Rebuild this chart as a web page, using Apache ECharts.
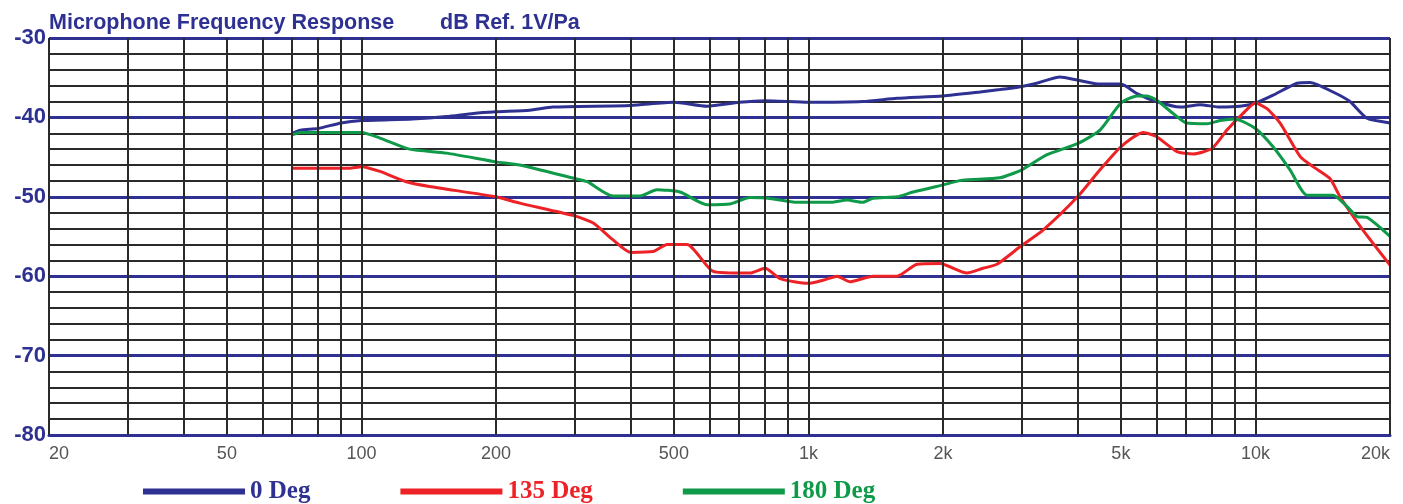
<!DOCTYPE html>
<html>
<head>
<meta charset="utf-8">
<title>Microphone Frequency Response</title>
<script src="https://cdn.jsdelivr.net/npm/echarts@6/dist/echarts.min.js"></script>
<style>
  html, body { margin: 0; padding: 0; background: #fff; }
  #chart { width: 1403px; height: 504px; }
</style>
</head>
<body>
<div id="chart"></div>
<script>
// 频率 (Hz) / 电平 (dB) 读数
let deg0Freq = [70, 73, 80, 90, 100, 130, 155, 178, 200, 238, 268, 400, 500, 593, 700, 800, 1000, 1324, 1578, 2000, 2421, 2682, 3000, 3241, 3654, 4000, 4490, 5000, 5433, 6000, 6780, 7514, 8332, 9234, 10000, 10948, 12388, 13244, 14912, 16270, 17760, 20000];
let deg0Db = [-42.0, -41.6, -41.4, -40.7, -40.4, -40.2, -39.9, -39.5, -39.3, -39.1, -38.7, -38.5, -38.1, -38.6, -38.1, -37.9, -38.1, -38.0, -37.6, -37.3, -36.8, -36.5, -36.1, -35.7, -34.9, -35.3, -35.8, -35.8, -37.0, -38.0, -38.7, -38.4, -38.7, -38.6, -38.2, -37.2, -35.7, -35.6, -36.8, -38.0, -40.1, -40.7];

let deg135Freq = [70, 94, 100, 110, 126, 142, 200, 226, 300, 330, 365, 400, 449, 483, 535, 612, 700, 740, 800, 864, 1000, 1078, 1159, 1239, 1394, 1578, 1749, 1969, 2263, 2458, 2641, 2974, 3348, 4000, 4490, 5000, 5604, 6000, 6676, 7250, 8000, 8636, 9380, 10000, 10614, 11348, 12582, 13450, 14682, 15460, 17400, 20000];
let deg135Db = [-46.4, -46.4, -46.2, -46.8, -48.1, -48.7, -50.0, -50.8, -52.4, -53.3, -55.4, -57.0, -56.9, -56.0, -56.0, -59.4, -59.6, -59.6, -59.0, -60.3, -60.9, -60.5, -60.0, -60.7, -60.0, -60.0, -58.5, -58.4, -59.6, -59.0, -58.5, -56.3, -54.2, -50.0, -46.6, -43.7, -41.9, -42.4, -44.3, -44.6, -43.9, -41.6, -39.5, -38.2, -38.9, -40.7, -44.9, -46.2, -47.7, -50.0, -54.2, -58.6];

let deg180Freq = [70, 73, 100, 110, 128, 155, 200, 226, 300, 320, 365, 420, 458, 516, 593, 668, 740, 820, 943, 1117, 1220, 1324, 1394, 1578, 1714, 2000, 2216, 2682, 3000, 3418, 4000, 4490, 5000, 5433, 5722, 6000, 6540, 7000, 7790, 8332, 9000, 10000, 10948, 11950, 13044, 14912, 16020, 16874, 17760, 20000];
let deg180Db = [-42.2, -41.9, -41.9, -42.6, -44.0, -44.5, -45.6, -46.0, -47.7, -48.1, -49.9, -49.9, -49.1, -49.4, -51.0, -50.9, -50.1, -50.2, -50.7, -50.7, -50.4, -50.7, -50.2, -50.0, -49.4, -48.5, -47.9, -47.6, -46.6, -44.7, -43.3, -41.6, -38.2, -37.3, -37.3, -37.8, -39.5, -40.7, -40.8, -40.4, -40.2, -41.4, -43.7, -46.6, -49.8, -49.8, -51.2, -52.5, -52.6, -55.0];

// 坐标刻度
let xLabelValues = [20, 50, 100, 200, 500, 1000, 2000, 5000, 10000, 20000];
let xGridValues = [20, 30, 40, 50, 60, 70, 80, 90, 100, 200, 300, 400, 500, 600, 700, 800, 900, 1000, 2000, 3000, 4000, 5000, 6000, 7000, 8000, 9000, 10000, 20000];
let seriesNames = ["0 Deg", "135 Deg", "180 Deg"];

const BLUE = "#2E3192";
const RED = "#EC2227";
const GREEN = "#0E9A48";

function pairs(fs, ds) {
  return fs.map((f, i) => [f, ds[i]]);
}

let myChart = echarts.init(document.getElementById("chart"));
myChart.setOption({
  animation: false,
  title: [
    {
      text: "Microphone Frequency Response",
      left: 49,
      top: 12,
      padding: 0,
      textStyle: { color: BLUE, fontSize: 21.5, fontWeight: "bold", fontFamily: "Liberation Sans" }
    },
    {
      text: "dB Ref. 1V/Pa",
      left: 440,
      top: 12,
      padding: 0,
      textStyle: { color: BLUE, fontSize: 21.5, fontWeight: "bold", fontFamily: "Liberation Sans" }
    }
  ],
  grid: { left: 49, right: 13, top: 38, bottom: 69 },
  legend: {
    left: 143,
    top: 479,
    padding: 0,
    itemGap: 90,
    itemWidth: 102,
    itemHeight: 6,
    icon: "rect",
    data: [
      { name: seriesNames[0], textStyle: { color: BLUE } },
      { name: seriesNames[1], textStyle: { color: RED } },
      { name: seriesNames[2], textStyle: { color: GREEN } }
    ],
    textStyle: { fontFamily: "Liberation Serif", fontWeight: "bold", fontSize: 25 }
  },
  xAxis: {
    type: "log",
    logBase: 10,
    min: 20,
    max: 20000,
    axisLine: { show: true, lineStyle: { color: BLUE, width: 3 } },
    axisTick: { show: false },
    splitLine: { show: false },
    axisLabel: {
      customValues: xLabelValues,
      alignMinLabel: "left",
      alignMaxLabel: "right",
      margin: 10,
      color: "#555",
      fontSize: 18,
      fontFamily: "Liberation Sans",
      formatter: v => (v >= 1000 ? v / 1000 + "k" : String(v))
    }
  },
  yAxis: {
    type: "value",
    min: -80,
    max: -30,
    interval: 10,
    axisLine: { show: false },
    axisTick: { show: false },
    axisLabel: {
      margin: 3,
      color: BLUE,
      fontSize: 22,
      fontWeight: "bold",
      fontFamily: "Liberation Sans"
    },
    splitLine: { show: true, lineStyle: { color: BLUE, width: 3 } },
    minorTick: { show: false, splitNumber: 5 },
    minorSplitLine: { show: true, lineStyle: { color: "#2a2a2a", width: 2 } }
  },
  series: [
    {
      // 竖向网格线
      name: "grid",
      type: "line",
      data: [],
      silent: true,
      z: 1,
      markLine: {
        silent: true,
        symbol: "none",
        label: { show: false },
        lineStyle: { color: "#2a2a2a", width: 2, type: "solid" },
        data: xGridValues.map(v => ({ xAxis: v }))
      }
    },
    {
      name: seriesNames[0],
      type: "line",
      z: 3,
      showSymbol: false,
      smooth: 0.2,
      color: BLUE,
      lineStyle: { width: 3 },
      data: pairs(deg0Freq, deg0Db)
    },
    {
      name: seriesNames[1],
      type: "line",
      z: 3,
      showSymbol: false,
      smooth: 0.2,
      color: RED,
      lineStyle: { width: 3 },
      data: pairs(deg135Freq, deg135Db)
    },
    {
      name: seriesNames[2],
      type: "line",
      z: 3,
      showSymbol: false,
      smooth: 0.2,
      color: GREEN,
      lineStyle: { width: 3 },
      data: pairs(deg180Freq, deg180Db)
    }
  ]
});
</script>
</body>
</html>
